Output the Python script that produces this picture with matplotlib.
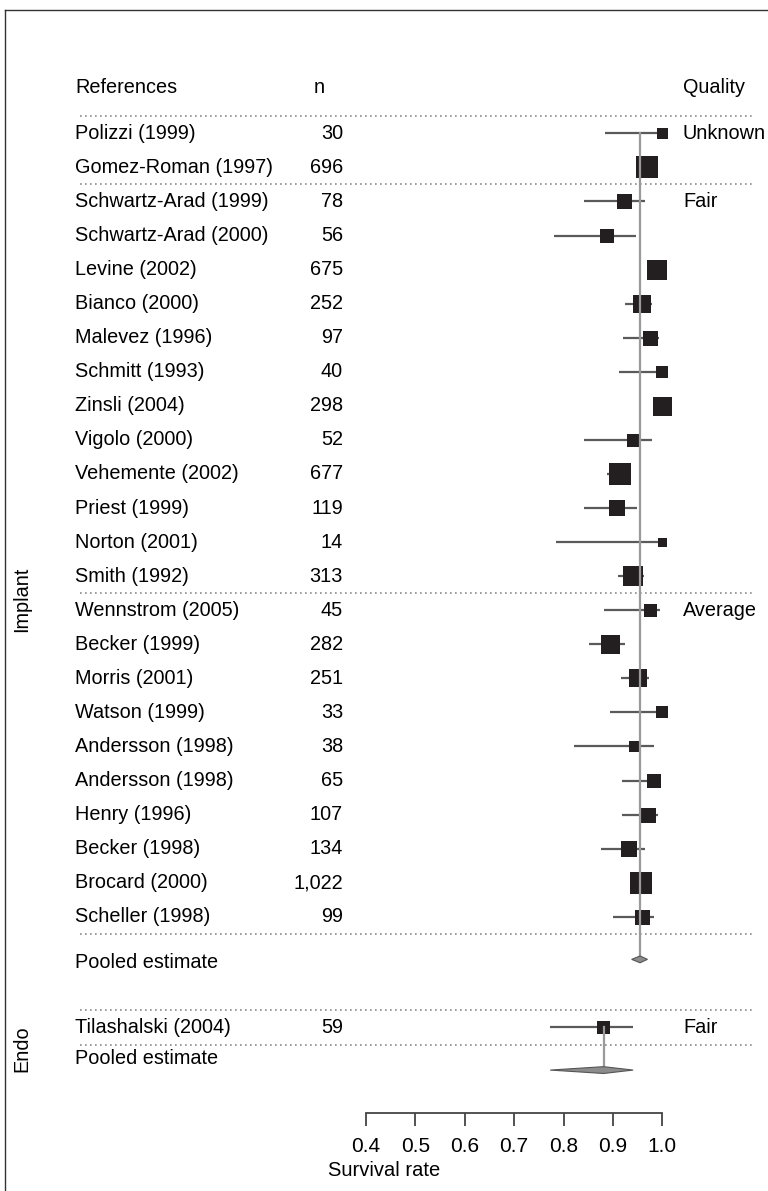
import matplotlib
matplotlib.use("Agg")
import matplotlib.pyplot as plt
import matplotlib.transforms as mtransforms
from matplotlib.lines import Line2D
from matplotlib.patches import Polygon

plt.rcParams["font.family"] = ["Liberation Sans", "DejaVu Sans"]

# implant studies, grouped by quality
studies = [
    "Polizzi (1999)", "Gomez-Roman (1997)",
    "Schwartz-Arad (1999)", "Schwartz-Arad (2000)", "Levine (2002)", "Bianco (2000)",
    "Malevez (1996)", "Schmitt (1993)", "Zinsli (2004)", "Vigolo (2000)",
    "Vehemente (2002)", "Priest (1999)", "Norton (2001)", "Smith (1992)",
    "Wennstrom (2005)", "Becker (1999)", "Morris (2001)", "Watson (1999)",
    "Andersson (1998)", "Andersson (1998)", "Henry (1996)", "Becker (1998)",
    "Brocard (2000)", "Scheller (1998)",
]
n_patients = [
    "30", "696",
    "78", "56", "675", "252", "97", "40", "298", "52", "677", "119", "14", "313",
    "45", "282", "251", "33", "38", "65", "107", "134", "1,022", "99",
]
estimate = [
    1.000, 0.970,
    0.922, 0.889, 0.990, 0.958, 0.975, 1.000, 1.000, 0.941, 0.914, 0.908, 1.000, 0.941,
    0.976, 0.895, 0.950, 1.000, 0.942, 0.984, 0.972, 0.932, 0.956, 0.958,
]
ci_low = [
    0.884, 0.958,
    0.841, 0.781, 0.975, 0.925, 0.921, 0.912, 0.985, 0.841, 0.889, 0.841, 0.784, 0.910,
    0.882, 0.852, 0.916, 0.894, 0.821, 0.918, 0.919, 0.875, 0.943, 0.900,
]
ci_high = [
    1.000, 0.983,
    0.964, 0.947, 1.000, 0.979, 0.994, 1.000, 1.000, 0.980, 0.930, 0.948, 1.000, 0.963,
    0.995, 0.925, 0.973, 1.000, 0.984, 0.995, 0.991, 0.965, 0.969, 0.984,
]
weight = [11, 22, 15, 14, 20, 18, 15, 12, 19, 13, 22, 16, 9, 20,
          13, 19, 18, 12, 11, 14, 15, 16, 23, 15]
quality_groups = ["Unknown", "Fair", "Average"]
group_sizes = [2, 12, 10]
implant_pooled = (0.955, 0.938, 0.970)

# endodontic
endo_study = "Tilashalski (2004)"
endo_n = "59"
endo_estimate = 0.880
endo_low = 0.773
endo_high = 0.941
endo_weight = 13
endo_quality = "Fair"
endo_pooled = (0.881, 0.773, 0.941)

ticks = [0.4, 0.5, 0.6, 0.7, 0.8, 0.9, 1.0]

W, H = 768, 1191
fig = plt.figure(figsize=(W / 100, H / 100), dpi=100)
ax = fig.add_axes([0, 0, 1, 1])
ax.set_xlim(-0.3412, 1.2141)
ax.set_ylim(31.05, -3.914)
for side in ["top", "left", "right"]:
    ax.spines[side].set_visible(False)
ax.set_yticks([])

trans = mtransforms.blended_transform_factory(ax.transAxes, ax.transData)
fs = 14.3
sq_color = "#231f20"
ci_color = "#5a5a5a"
vline_color = "#9a9a9a"
dot_kw = dict(color="#8a8a8a", lw=1.2, linestyle=(0, (1, 2)),
              xmin=80 / W, xmax=755 / W)
x_name, x_n, x_q = 75 / W, 343 / W, 683 / W

rows = list(range(len(studies)))
pooled_row = len(studies) + 0.25
endo_row = pooled_row + 2.0
endo_pooled_row = endo_row + 1.25

# headers
ax.text(x_name, -1.35, "References", transform=trans, fontsize=fs, va="center")
ax.text(x_n - 0.038, -1.35, "n", transform=trans, fontsize=fs, va="center")
ax.text(x_q, -1.35, "Quality", transform=trans, fontsize=fs, va="center")

# group separators and quality labels
start = 0
ax.axhline(-0.5, **dot_kw)
for q, size in zip(quality_groups, group_sizes):
    ax.text(x_q, start, q, transform=trans, fontsize=fs, va="center")
    start += size
    ax.axhline(start - 0.5, **dot_kw)

# study rows
for r, name, n, e, lo, hi, w in zip(rows, studies, n_patients, estimate,
                                    ci_low, ci_high, weight):
    ax.text(x_name, r, name, transform=trans, fontsize=fs, va="center")
    ax.text(x_n, r, n, transform=trans, fontsize=fs, va="center", ha="right")
    ax.plot([lo, hi], [r, r], color=ci_color, lw=1.6, zorder=2,
            solid_capstyle="butt")
    ax.scatter([e], [r], marker="s", s=(w * 0.72) ** 2, color=sq_color,
               linewidths=0, zorder=3)

# pooled estimate for implants
pe, plo, phi = implant_pooled
ax.plot([pe, pe], [0, pooled_row], color=vline_color, lw=1.6, zorder=4)
ax.add_patch(Polygon([(plo, pooled_row), (pe, pooled_row - 0.1),
                      (phi, pooled_row), (pe, pooled_row + 0.1)],
                     closed=True, facecolor="#8c8c8c", edgecolor="#555555",
                     lw=0.8, zorder=5))
ax.text(x_name, pooled_row + 0.1, "Pooled estimate", transform=trans,
        fontsize=fs, va="center")

# endo block
ax.axhline(endo_row - 0.5, **dot_kw)
ax.axhline(endo_row + 0.5, **dot_kw)
ax.text(x_name, endo_row, endo_study, transform=trans, fontsize=fs, va="center")
ax.text(x_n, endo_row, endo_n, transform=trans, fontsize=fs, va="center",
        ha="right")
ax.text(x_q, endo_row, endo_quality, transform=trans, fontsize=fs, va="center")
ax.plot([endo_low, endo_high], [endo_row, endo_row], color=ci_color, lw=1.6,
        zorder=2, solid_capstyle="butt")
ax.scatter([endo_estimate], [endo_row], marker="s",
           s=(endo_weight * 0.72) ** 2, color=sq_color, linewidths=0, zorder=3)
ee, elo, ehi = endo_pooled
ax.plot([ee, ee], [endo_row, endo_pooled_row], color=vline_color, lw=1.6,
        zorder=4)
ax.add_patch(Polygon([(elo, endo_pooled_row), (ee, endo_pooled_row - 0.1),
                      (ehi, endo_pooled_row), (ee, endo_pooled_row + 0.1)],
                     closed=True, facecolor="#8c8c8c", edgecolor="#555555",
                     lw=0.8, zorder=5))
ax.text(x_name, endo_pooled_row - 0.35, "Pooled estimate", transform=trans,
        fontsize=fs, va="center")

# side group labels
ax.text(22 / W, 13.67, "Implant", transform=trans, fontsize=fs, rotation=90,
        va="center", ha="center")
ax.text(22 / W, 26.86, "Endo", transform=trans, fontsize=fs, rotation=90,
        va="center", ha="center")

# survival-rate scale
ax.spines["bottom"].set_position(("data", 28.76))
ax.spines["bottom"].set_bounds(ticks[0], ticks[-1])
ax.spines["bottom"].set_color("#444444")
ax.spines["bottom"].set_linewidth(1.3)
ax.set_xticks(ticks)
ax.set_xticklabels([f"{t:.1f}" for t in ticks])
ax.tick_params(axis="x", direction="out", length=9, width=1.3,
               color="#444444", labelsize=15, pad=8)
ax.set_xlabel("Survival rate", fontsize=14.5, labelpad=4)

# frame around the figure
fig.add_artist(Line2D([5 / W, 5 / W], [0, 1 - 10 / H], color="#333333",
                      lw=1.0, transform=fig.transFigure))
fig.add_artist(Line2D([5 / W, 1], [1 - 10 / H, 1 - 10 / H], color="#333333",
                      lw=1.0, transform=fig.transFigure))

fig.savefig("out.png", dpi=100)
